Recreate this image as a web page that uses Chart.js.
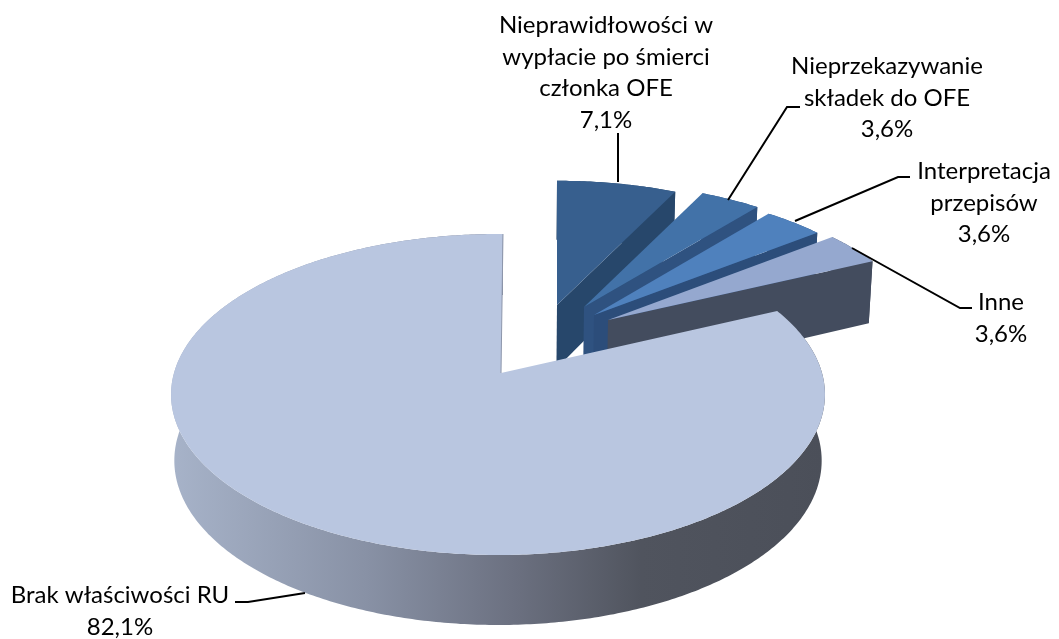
<!DOCTYPE html>
<html>
<head>
<meta charset="utf-8">
<title>Pie</title>
<script src="https://cdn.jsdelivr.net/npm/chart.js@4"></script>
<style>
  html, body { margin: 0; padding: 0; background: #fff; }
  canvas { display: block; }
</style>
</head>
<body>
<canvas id="pie3d" width="1059" height="639"></canvas>
<script>
// Data
const categories = [
  "Nieprawidłowości w wypłacie po śmierci członka OFE",
  "Nieprzekazywanie składek do OFE",
  "Interpretacja przepisów",
  "Inne",
  "Brak właściwości RU"
];
const values = [7.1, 3.6, 3.6, 3.6, 82.1];

// Slice look: top colour, wall colour, where the slice moves when exploded (px)
const topColors = ["#375f8e", "#4272a8", "#4f81bd", "#95a8cf", "#b9c6e0"];
const wallColors = ["#27476b", "#2f5280", "#2c4d7a", "#434c5e", null];
const explodeX = [59, 86, 96, 110, 0];
const explodeY = [-68, -66, -58, -53, 0];
// the big slice is turned a bit and its tip sits right of the ellipse centre
const turnDeg = [0, 0, 0, 0, 1];
const tipNudgeX = [0, 0, 0, 0, 3];

// Label layout
const labelLines = [
  ["Nieprawidłowości w", "wypłacie po śmierci", "członka OFE"],
  ["Nieprzekazywanie", "składek do OFE"],
  ["Interpretacja", "przepisów"],
  ["Inne"],
  ["Brak właściwości RU"]
];
const labelX = [606, 887, 984, 1001, 120];
const labelY = [25, 66, 171, 302, 595];
const lineStep = 31.8;
const leaders = [
  [[618, 182], [618, 133]],
  [[728, 200], [787, 107], [800, 107]],
  [[795, 221], [898, 177], [910, 177]],
  [[852, 248], [960, 308], [972, 308]],
  [[305, 593], [248, 602], [235, 602]]
];

// Fake perspective of the pie plane
const stretchX = 324 / 266;
const stretchY = 157.6 / 266;
const persp = 0.134;

function project(arc, i, theta) {
  const R = arc.outerRadius * stretchX;
  const A = arc.outerRadius * stretchY;
  const ax = arc.x + explodeX[i];
  const tipUp = -explodeY[i] / A;
  const v0 = tipUp / (1 - persp * tipUp);
  const t = theta + turnDeg[i] * Math.PI / 180;
  const v = v0 + Math.cos(t);
  const w = 1 + persp * v;
  return {
    x: ax + R * Math.sin(t) / w,
    y: arc.y - A * v / w,
    v: v
  };
}

function tipOf(arc, i) {
  const A = arc.outerRadius * stretchY;
  const tipUp = -explodeY[i] / A;
  return {
    x: arc.x + explodeX[i] + tipNudgeX[i],
    y: arc.y + explodeY[i],
    v: tipUp / (1 - persp * tipUp)
  };
}

// Side wall gets lower when it is nearer to us
function dropPoint(arc, p) {
  return {
    x: arc.x + (p.x - arc.x) * 0.99,
    y: p.y + 65.5 - 4.5 * p.v
  };
}

function rimPoints(arc, i) {
  const from = arc.startAngle + Math.PI / 2;
  const to = arc.endAngle + Math.PI / 2;
  const steps = Math.max(8, Math.round((to - from) * 90));
  const pts = [];
  for (let s = 0; s <= steps; s++) {
    pts.push(project(arc, i, from + (to - from) * s / steps));
  }
  return pts;
}

function fillPath(ctx, pts, color) {
  ctx.beginPath();
  pts.forEach((p, k) => (k === 0 ? ctx.moveTo(p.x, p.y) : ctx.lineTo(p.x, p.y)));
  ctx.closePath();
  ctx.fillStyle = color;
  ctx.fill();
}

function drawSlice(ctx, arc, i) {
  const rim = rimPoints(arc, i);
  const tip = tipOf(arc, i);
  const last = rim[rim.length - 1];
  const isBig = wallColors[i] === null;

  let wall = wallColors[i];
  if (isBig) {
    wall = ctx.createLinearGradient(171, 0, 825, 0);
    wall.addColorStop(0, "#a7b3c9");
    wall.addColorStop(0.3, "#8891a5");
    wall.addColorStop(0.52, "#6c7181");
    wall.addColorStop(0.72, "#50545e");
    wall.addColorStop(1, "#4b4f59");
  }

  // outer wall
  fillPath(ctx, rim.concat(rim.map(p => dropPoint(arc, p)).reverse()), wall);

  // wall along the end edge of the exploded slices
  if (!isBig) {
    fillPath(ctx, [tip, last, dropPoint(arc, last), dropPoint(arc, tip)], wall);
  }

  // top
  fillPath(ctx, [tip].concat(rim), topColors[i]);
}

const pie3dPlugin = {
  id: "pie3d",
  beforeDatasetsDraw(chart) {
    const ctx = chart.ctx;
    const arcs = chart.getDatasetMeta(0).data;
    ctx.save();
    arcs.forEach((arc, i) => drawSlice(ctx, arc, i));

    // thin dark line on the cut of the big slice
    const big = arcs.length - 1;
    const tip = tipOf(arcs[big], big);
    const top = project(arcs[big], big, 2 * Math.PI);
    ctx.strokeStyle = "#8d96ab";
    ctx.lineWidth = 1;
    ctx.beginPath();
    ctx.moveTo(tip.x, tip.y);
    ctx.lineTo(top.x, top.y);
    ctx.stroke();
    ctx.restore();
    return false;
  },
  afterDraw(chart) {
    const ctx = chart.ctx;
    ctx.save();
    ctx.strokeStyle = "#000";
    ctx.lineWidth = 2;
    leaders.forEach(line => {
      ctx.beginPath();
      line.forEach((p, k) => (k === 0 ? ctx.moveTo(p[0], p[1]) : ctx.lineTo(p[0], p[1])));
      ctx.stroke();
    });
    ctx.fillStyle = "#000";
    ctx.font = "24px Lato";
    ctx.textAlign = "center";
    ctx.textBaseline = "middle";
    labelLines.forEach((lines, i) => {
      const all = lines.concat(values[i].toFixed(1).replace(".", ",") + "%");
      all.forEach((t, k) => ctx.fillText(t, labelX[i], labelY[i] + k * lineStep));
    });
    ctx.restore();
  }
};

new Chart(document.getElementById("pie3d"), {
  type: "pie",
  data: {
    labels: categories,
    datasets: [{ data: values, backgroundColor: topColors, borderWidth: 0 }]
  },
  options: {
    responsive: false,
    animation: false,
    layout: { padding: { left: 0, right: 63, top: 107, bottom: 0 } },
    plugins: { legend: { display: false }, tooltip: { enabled: false } }
  },
  plugins: [pie3dPlugin]
});
</script>
</body>
</html>
